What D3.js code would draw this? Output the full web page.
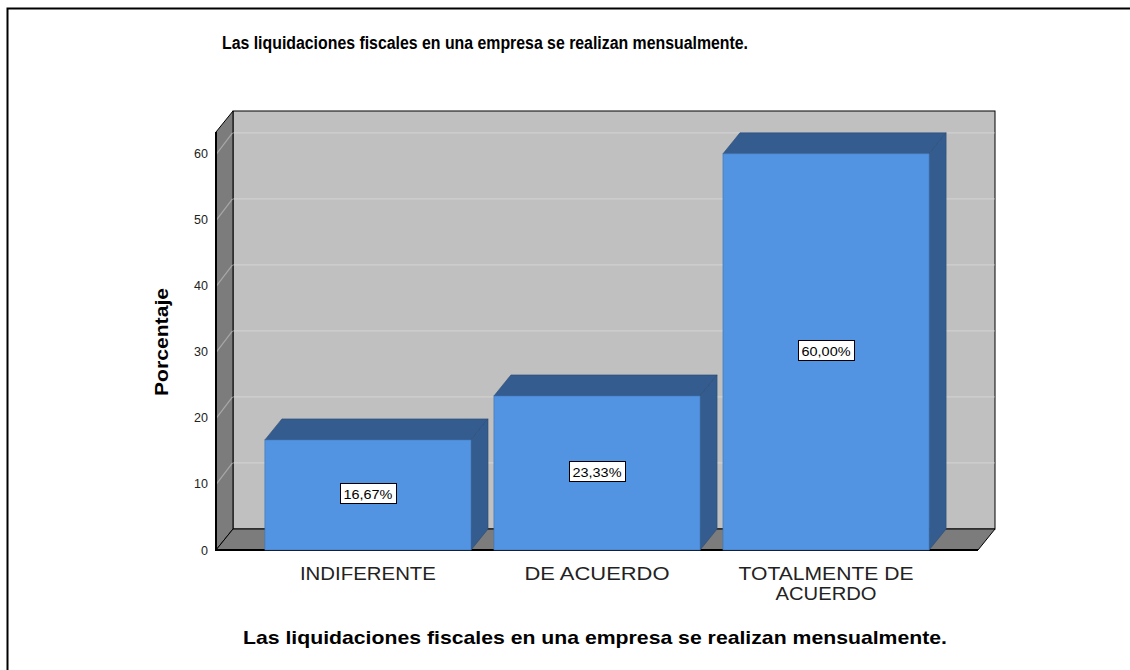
<!DOCTYPE html>
<html>
<head>
<meta charset="utf-8">
<script src="https://cdn.jsdelivr.net/npm/d3@7"></script>
<style>
  body { margin: 0; background: #fff; }
  text { font-family: "Liberation Sans", Arial, sans-serif; }
</style>
</head>
<body>
<div id="chart"></div>
<script>
var categories = ["INDIFERENTE", "DE ACUERDO", "TOTALMENTE DE ACUERDO"];
var catLines = [["INDIFERENTE"], ["DE ACUERDO"], ["TOTALMENTE DE", "ACUERDO"]];
var catWidths = [[136], [145], [175, 101]];
var values = [16.67, 23.33, 60.00];
var valueLabels = ["16,67%", "23,33%", "60,00%"];
var yTicks = [0, 10, 20, 30, 40, 50, 60];
var title = "Las liquidaciones fiscales en una empresa se realizan mensualmente.";

var W = 1130, H = 670;
var x0 = 216, x1 = 978, yBase = 550, yTop = 132;
var dx = 17, dy = -21;

var svg = d3.select("#chart").append("svg")
  .attr("width", W)
  .attr("height", H);

// outer frame
svg.append("path")
  .attr("d", "M7.5," + H + "V8.5H" + W)
  .attr("fill", "none")
  .attr("stroke", "#000")
  .attr("stroke-width", 2);

var xScale = d3.scaleBand()
  .domain(categories)
  .range([x0, x1])
  .paddingInner(0.1)
  .paddingOuter(0.2135);

var yScale = d3.scaleLinear()
  .domain([0, 63.3])
  .range([yBase, yTop]);

// back wall
svg.append("rect")
  .attr("x", x0 + dx)
  .attr("y", yTop + dy)
  .attr("width", x1 - x0)
  .attr("height", yBase - yTop)
  .attr("fill", "#c0c0c0")
  .attr("stroke", "#000")
  .attr("stroke-width", 1);

// left wall
svg.append("polygon")
  .attr("points", [[x0, yBase], [x0 + dx, yBase + dy], [x0 + dx, yTop + dy], [x0, yTop]].join(" "))
  .attr("fill", "#7c7c7c")
  .attr("stroke", "#000")
  .attr("stroke-width", 1);

// floor
svg.append("polygon")
  .attr("points", [[x0, yBase], [x1, yBase], [x1 + dx, yBase + dy], [x0 + dx, yBase + dy]].join(" "))
  .attr("fill", "#7c7c7c")
  .attr("stroke", "#000")
  .attr("stroke-width", 1);

// gridlines
var grid = svg.append("g").attr("class", "grid");
grid.selectAll("line.back")
  .data(yTicks.filter(function(d) { return d > 0; }))
  .enter().append("line")
  .attr("class", "back")
  .attr("x1", x0 + dx + 0.5)
  .attr("x2", x1 + dx - 0.5)
  .attr("y1", function(d) { return yScale(d) + dy; })
  .attr("y2", function(d) { return yScale(d) + dy; })
  .attr("stroke", "#d0d0d0")
  .attr("stroke-width", 1.2);
grid.selectAll("line.side")
  .data(yTicks.filter(function(d) { return d > 0; }))
  .enter().append("line")
  .attr("class", "side")
  .attr("x1", x0 + 0.5)
  .attr("x2", x0 + dx - 0.5)
  .attr("y1", function(d) { return yScale(d); })
  .attr("y2", function(d) { return yScale(d) + dy; })
  .attr("stroke", "#a8a8a8")
  .attr("stroke-width", 1.2);

// redraw strong edges
svg.append("path")
  .attr("d", "M" + x0 + "," + yTop + "V" + yBase + "H" + x1)
  .attr("fill", "none")
  .attr("stroke", "#000")
  .attr("stroke-width", 2);

// bars
var bars = svg.append("g").attr("class", "bars");
var bw = xScale.bandwidth();

bars.selectAll("polygon.top")
  .data(values)
  .enter().append("polygon")
  .attr("class", "top")
  .attr("points", function(d, i) {
    var bx = xScale(categories[i]), by = yScale(d);
    return [[bx, by], [bx + bw, by], [bx + bw + dx, by + dy], [bx + dx, by + dy]].join(" ");
  })
  .attr("fill", "#345c8e")
  .attr("stroke", "#2b4c75")
  .attr("stroke-width", 0.6);

bars.selectAll("polygon.side")
  .data(values)
  .enter().append("polygon")
  .attr("class", "side")
  .attr("points", function(d, i) {
    var bx = xScale(categories[i]) + bw, by = yScale(d);
    return [[bx, by], [bx + dx, by + dy], [bx + dx, yBase + dy], [bx, yBase]].join(" ");
  })
  .attr("fill", "#345c8e")
  .attr("stroke", "#2b4c75")
  .attr("stroke-width", 0.6);

bars.selectAll("rect")
  .data(values)
  .enter().append("rect")
  .attr("x", function(d, i) { return xScale(categories[i]); })
  .attr("y", function(d) { return yScale(d); })
  .attr("width", bw)
  .attr("height", function(d) { return yBase - yScale(d); })
  .attr("fill", "#5294e2")
  .attr("stroke", "#3f72b0")
  .attr("stroke-width", 0.6);

// value labels
var lab = svg.append("g").attr("class", "labels");
values.forEach(function(d, i) {
  var cx = xScale(categories[i]) + bw / 2;
  var cy = (yScale(d) + yBase) / 2;
  var g = lab.append("g");
  g.append("rect")
    .attr("x", Math.round(cx - 28) + 0.5)
    .attr("y", Math.round(cy - 12) + 0.5)
    .attr("width", 56)
    .attr("height", 20)
    .attr("fill", "#fff")
    .attr("stroke", "#000")
    .attr("stroke-width", 1);
  g.append("text")
    .attr("x", cx)
    .attr("y", cy + 4.5)
    .attr("text-anchor", "middle")
    .attr("font-size", 13)
    .attr("textLength", 49)
    .attr("lengthAdjust", "spacingAndGlyphs")
    .attr("fill", "#000")
    .text(valueLabels[i]);
});

// y axis
var yAxis = svg.append("g")
  .attr("transform", "translate(" + (x0 - 8) + ",0)")
  .call(d3.axisLeft(yScale).tickValues(yTicks).tickSize(0).tickPadding(0));
yAxis.select(".domain").remove();
yAxis.selectAll("text")
  .attr("font-family", "'Liberation Sans', Arial, sans-serif")
  .attr("font-size", 12.5)
  .attr("fill", "#222");

// category labels
var cat = svg.append("g").attr("class", "cats");
catLines.forEach(function(lines, i) {
  lines.forEach(function(l, j) {
    cat.append("text")
      .attr("x", xScale(categories[i]) + bw / 2)
      .attr("y", 580 + j * 20)
      .attr("text-anchor", "middle")
      .attr("font-size", 17.5)
      .attr("textLength", catWidths[i][j])
      .attr("lengthAdjust", "spacingAndGlyphs")
      .attr("fill", "#222")
      .text(l);
  });
});

// titles
svg.append("text")
  .attr("x", 485)
  .attr("y", 49)
  .attr("text-anchor", "middle")
  .attr("font-size", 18)
  .attr("font-weight", "bold")
  .attr("textLength", 526)
  .attr("lengthAdjust", "spacingAndGlyphs")
  .text(title);

svg.append("text")
  .attr("x", 595)
  .attr("y", 644)
  .attr("text-anchor", "middle")
  .attr("font-size", 19)
  .attr("font-weight", "bold")
  .attr("textLength", 704)
  .attr("lengthAdjust", "spacingAndGlyphs")
  .text(title);

svg.append("text")
  .attr("transform", "translate(168,342) rotate(-90)")
  .attr("text-anchor", "middle")
  .attr("font-size", 19)
  .attr("font-weight", "bold")
  .attr("textLength", 108)
  .attr("lengthAdjust", "spacingAndGlyphs")
  .text("Porcentaje");
</script>
</body>
</html>
